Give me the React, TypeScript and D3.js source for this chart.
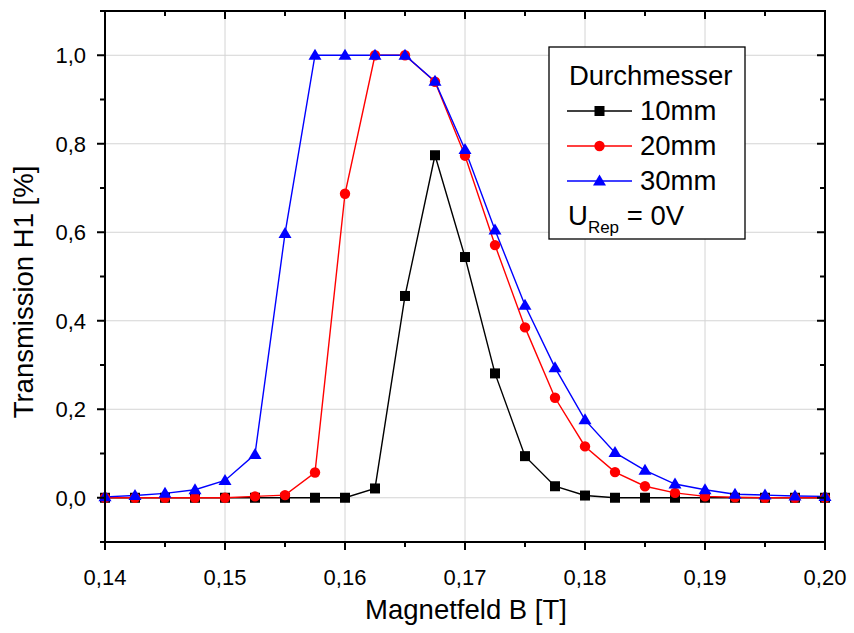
import React from "react";
import * as d3 from "d3";

const xValues = [0.14, 0.1425, 0.145, 0.1475, 0.15, 0.1525, 0.155, 0.1575, 0.16, 0.1625, 0.165, 0.1675, 0.17, 0.1725, 0.175, 0.1775, 0.18, 0.1825, 0.185, 0.1875, 0.19, 0.1925, 0.195, 0.1975, 0.2];
const d10 = [0, 0, 0, 0, 0, 0, 0, 0, 0, 0.021, 0.456, 0.774, 0.544, 0.281, 0.094, 0.026, 0.005, 0, 0, 0, 0, 0, 0, 0, 0];
const d20 = [0, 0, 0, 0, 0, 0.003, 0.006, 0.057, 0.687, 1.0, 1.0, 0.94, 0.773, 0.571, 0.385, 0.226, 0.116, 0.058, 0.026, 0.011, 0.003, 0.001, 0, 0, 0];
const d30 = [0.002, 0.005, 0.01, 0.018, 0.039, 0.098, 0.597, 1.0, 1.0, 1.0, 1.0, 0.941, 0.787, 0.605, 0.435, 0.294, 0.176, 0.102, 0.062, 0.031, 0.018, 0.008, 0.006, 0.004, 0.003];
const seriesNames = ["10mm", "20mm", "30mm"];
const seriesColors = ["#000000", "#ff0000", "#0000ff"];
const xTicks = [0.14, 0.15, 0.16, 0.17, 0.18, 0.19, 0.2];
const xMinor = [0.145, 0.155, 0.165, 0.175, 0.185, 0.195];
const yTicks = [0, 0.2, 0.4, 0.6, 0.8, 1.0];
const yMinor = [-0.1, 0.1, 0.3, 0.5, 0.7, 0.9, 1.1];

const W = 854, H = 633;
const L = 105, R = 825, T = 11, B = 542;
const FONT = "'Liberation Sans', Arial, sans-serif";

function Marker({ kind, x, y, color }: { kind: number; x: number; y: number; color: string }) {
  if (kind === 0) return <rect x={x - 5} y={y - 5} width={10} height={10} fill={color} />;
  if (kind === 1) return <circle cx={x} cy={y} r={5.2} fill={color} />;
  return <path d={`M${x},${y - 6.5} L${x + 6.5},${y + 4.5} L${x - 6.5},${y + 4.5} Z`} fill={color} />;
}

export default function App() {
  const x = d3.scaleLinear().domain([0.14, 0.2]).range([L, R]);
  const y = d3.scaleLinear().domain([-0.1, 1.1]).range([B, T]);
  const fmtX = (v: number) => v.toFixed(2).replace(".", ",");
  const fmtY = (v: number) => v.toFixed(1).replace(".", ",");
  const allData = [d10, d20, d30];
  const line = d3.line<number>().x((_, i) => x(xValues[i])).y((d) => y(d));
  const leg = { x: 549, y: 47, w: 196, h: 192 };
  return (
    <svg width={W} height={H} style={{ position: "absolute", left: 0, top: 0, background: "#fff" }} fontFamily={FONT}>
      <rect x={0} y={0} width={W} height={H} fill="#fff" />
      {xTicks.slice(1, -1).map((t) => (
        <line key={"gx" + t} x1={x(t)} x2={x(t)} y1={T} y2={B} stroke="#d4d4d4" strokeWidth={1} />
      ))}
      {yTicks.map((t) => (
        <line key={"gy" + t} x1={L} x2={R} y1={y(t)} y2={y(t)} stroke="#d4d4d4" strokeWidth={1} />
      ))}
      {[0, 1, 2].map((si) => (
        <path key={"l" + si} d={line(allData[si]) || ""} fill="none" stroke={seriesColors[si]} strokeWidth={1.4} />
      ))}
      {[0, 1, 2].map((si) =>
        allData[si].map((v, i) => (
          <Marker key={"m" + si + "-" + i} kind={si} x={x(xValues[i])} y={y(v)} color={seriesColors[si]} />
        ))
      )}
      <rect x={L} y={T} width={R - L} height={B - T} fill="none" stroke="#000" strokeWidth={2} />
      {xTicks.map((t) => (
        <g key={"xt" + t}>
          <line x1={x(t)} x2={x(t)} y1={B} y2={B + 8} stroke="#000" strokeWidth={2} />
          <line x1={x(t)} x2={x(t)} y1={T} y2={T + 8} stroke="#000" strokeWidth={2} />
          <text x={x(t)} y={585} textAnchor="middle" fontSize={22} fill="#000">{fmtX(t)}</text>
        </g>
      ))}
      {xMinor.map((t) => (
        <g key={"xm" + t}>
          <line x1={x(t)} x2={x(t)} y1={B} y2={B + 5} stroke="#000" strokeWidth={2} />
          <line x1={x(t)} x2={x(t)} y1={T} y2={T + 5} stroke="#000" strokeWidth={2} />
        </g>
      ))}
      {yTicks.map((t) => (
        <g key={"yt" + t}>
          <line x1={L - 8} x2={L} y1={y(t)} y2={y(t)} stroke="#000" strokeWidth={2} />
          <line x1={R - 8} x2={R} y1={y(t)} y2={y(t)} stroke="#000" strokeWidth={2} />
          <text x={86} y={y(t) + 8} textAnchor="end" fontSize={22} fill="#000">{fmtY(t)}</text>
        </g>
      ))}
      {yMinor.map((t) => (
        <g key={"ym" + t}>
          <line x1={L - 5} x2={L} y1={y(t)} y2={y(t)} stroke="#000" strokeWidth={2} />
          <line x1={R - 5} x2={R} y1={y(t)} y2={y(t)} stroke="#000" strokeWidth={2} />
        </g>
      ))}
      <text x={466} y={619} textAnchor="middle" fontSize={27.5} fill="#000">Magnetfeld B [T]</text>
      <text transform={`translate(33, 292) rotate(-90)`} textAnchor="middle" fontSize={27.5} fill="#000">Transmission H1 [%]</text>
      <rect x={leg.x} y={leg.y} width={leg.w} height={leg.h} fill="#fff" stroke="#000" strokeWidth={1.3} />
      <text x={569} y={85} fontSize={27.5} fill="#000">Durchmesser</text>
      {[0, 1, 2].map((si) => {
        const ly = 111 + si * 35;
        return (
          <g key={"lg" + si}>
            <line x1={567} x2={632} y1={ly} y2={ly} stroke={seriesColors[si]} strokeWidth={1.4} />
            <Marker kind={si} x={599.5} y={ly} color={seriesColors[si]} />
            <text x={640} y={ly + 8.5} fontSize={27.5} fill="#000">{seriesNames[si]}</text>
          </g>
        );
      })}
      <text x={568} y={225} fontSize={27.5} fill="#000">
        U<tspan fontSize={17} dy={8}>Rep</tspan><tspan dy={-8}> = 0V</tspan>
      </text>
    </svg>
  );
}
